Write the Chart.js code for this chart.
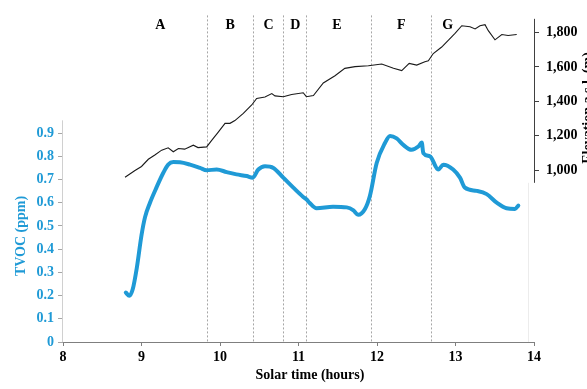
<!DOCTYPE html>
<html>
<head>
<meta charset="utf-8">
<script src="https://cdn.jsdelivr.net/npm/chart.js@4/dist/chart.umd.min.js"></script>
<style>
  html, body { margin: 0; padding: 0; background: #ffffff; }
  #wrap { width: 587px; height: 389px; }
</style>
</head>
<body>
<div id="wrap"><canvas id="chart" width="587" height="389"></canvas></div>
<script>
// TVOC concentration along the route (solar time in hours, ppm)
const tvocHours = [8.80, 8.845, 8.888, 8.94, 9.0, 9.045, 9.108, 9.19, 9.278, 9.34, 9.405, 9.49, 9.618, 9.745, 9.83,
  9.958, 10.085, 10.21, 10.34, 10.416, 10.488, 10.573, 10.68, 10.806, 10.934, 11.06, 11.104, 11.14, 11.23, 11.44,
  11.614, 11.70, 11.76, 11.847, 11.91, 11.996, 12.10, 12.166, 12.25, 12.335, 12.44, 12.526, 12.57, 12.59, 12.675,
  12.78, 12.845, 12.97, 13.057, 13.12, 13.27, 13.397, 13.525, 13.65, 13.758, 13.80];
const tvocValues = [0.213, 0.199, 0.227, 0.319, 0.46, 0.538, 0.60, 0.665, 0.729, 0.764, 0.775, 0.774, 0.764, 0.75, 0.74,
  0.743, 0.732, 0.722, 0.715, 0.708, 0.743, 0.757, 0.75, 0.708, 0.665, 0.625, 0.614, 0.60, 0.576, 0.583,
  0.58, 0.567, 0.548, 0.573, 0.63, 0.771, 0.856, 0.887, 0.877, 0.849, 0.828, 0.842, 0.859, 0.814, 0.80,
  0.743, 0.764, 0.743, 0.708, 0.665, 0.651, 0.637, 0.60, 0.576, 0.573, 0.588];

// Elevation above sea level (m)
const elevHours = [8.79, 8.917, 9.0, 9.087, 9.17, 9.257, 9.34, 9.405, 9.47, 9.55, 9.66, 9.72, 9.83, 9.894, 9.978,
  10.064, 10.127, 10.19, 10.297, 10.404, 10.467, 10.573, 10.66, 10.70, 10.806, 10.913, 11.06, 11.10, 11.19, 11.316,
  11.465, 11.59, 11.72, 11.89, 12.06, 12.21, 12.315, 12.41, 12.506, 12.61, 12.654, 12.717, 12.824, 12.994, 13.08,
  13.185, 13.25, 13.312, 13.376, 13.418, 13.503, 13.59, 13.67, 13.78];
const elevValues = [958, 998, 1021, 1063, 1088, 1116, 1130, 1107, 1126, 1122, 1145, 1131, 1135, 1173, 1221,
  1272, 1272, 1288, 1330, 1379, 1417, 1425, 1445, 1432, 1427, 1440, 1450, 1427, 1434, 1507,
  1549, 1592, 1602, 1607, 1617, 1592, 1579, 1621, 1611, 1630, 1636, 1678, 1716, 1796, 1840,
  1834, 1821, 1840, 1846, 1811, 1758, 1789, 1783, 1789];

// Route segments: boundaries (hours) and letter positions
const segmentBounds = [9.84, 10.42, 10.80, 11.10, 11.92, 12.69];
const segmentNames = ['A', 'B', 'C', 'D', 'E', 'F', 'G'];
const segmentLabelHours = [9.24, 10.13, 10.62, 10.96, 11.49, 12.31, 12.90];

// Tick labels
const xTicks = [8, 9, 10, 11, 12, 13, 14];
const tvocTicks = [0, 0.1, 0.2, 0.3, 0.4, 0.5, 0.6, 0.7, 0.8, 0.9];
const elevTicks = [1000, 1200, 1400, 1600, 1800];

const BLUE = '#1f9ad6';
const SERIF = "'Liberation Serif', 'Times New Roman', serif";
const tickFont = { family: SERIF, size: 14, weight: 'bold' };

const overlay = {
  id: 'overlay',
  beforeDatasetsDraw(chart) {
    const { ctx, chartArea, scales } = chart;
    const x = scales.x, y = scales.y, y2 = scales.y2;
    ctx.save();
    // segment separators
    ctx.strokeStyle = '#a6a6a6';
    ctx.lineWidth = 1;
    ctx.setLineDash([2, 2]);
    segmentBounds.forEach(h => {
      const px = Math.round(x.getPixelForValue(h)) + 0.5;
      ctx.beginPath();
      ctx.moveTo(px, chartArea.top);
      ctx.lineTo(px, chartArea.bottom);
      ctx.stroke();
    });
    ctx.setLineDash([]);
    // TVOC axis line
    ctx.strokeStyle = '#d0d0d0';
    ctx.beginPath();
    ctx.moveTo(chartArea.left - 0.5, y.getPixelForValue(0.955));
    ctx.lineTo(chartArea.left - 0.5, chartArea.bottom);
    ctx.stroke();
    // faint right edge of the TVOC panel
    ctx.strokeStyle = '#ececec';
    ctx.beginPath();
    ctx.moveTo(chartArea.right - 5.5, y2.getPixelForValue(926));
    ctx.lineTo(chartArea.right - 5.5, chartArea.bottom);
    ctx.stroke();
    // elevation axis line
    ctx.strokeStyle = '#404040';
    ctx.beginPath();
    ctx.moveTo(chartArea.right + 0.5, y2.getPixelForValue(1880));
    ctx.lineTo(chartArea.right + 0.5, y2.getPixelForValue(926));
    ctx.stroke();
    ctx.restore();
  },
  afterDraw(chart) {
    const { ctx, chartArea, scales } = chart;
    const x = scales.x;
    ctx.save();
    ctx.font = 'bold 14px ' + SERIF;
    ctx.fillStyle = '#000';
    ctx.textAlign = 'center';
    ctx.textBaseline = 'middle';
    segmentNames.forEach((name, i) => {
      ctx.fillText(name, x.getPixelForValue(segmentLabelHours[i]), chartArea.top + 10);
    });
    // x axis title
    ctx.fillText('Solar time (hours)', 310, 375);
    // TVOC axis title
    ctx.save();
    ctx.translate(21, 236);
    ctx.rotate(-Math.PI / 2);
    ctx.fillStyle = BLUE;
    ctx.fillText('TVOC (ppm)', 0, 0);
    ctx.restore();
    // elevation axis title
    ctx.save();
    ctx.translate(592, 108);
    ctx.rotate(-Math.PI / 2);
    ctx.textBaseline = 'alphabetic';
    ctx.fillText('Elevation a.s.l. (m)', 0, 0);
    ctx.restore();
    ctx.restore();
  }
};

new Chart(document.getElementById('chart'), {
  type: 'line',
  data: {
    datasets: [
      {
        label: 'Elevation',
        data: elevHours.map((h, i) => ({ x: h, y: elevValues[i] })),
        yAxisID: 'y2',
        borderColor: '#1a1a1a',
        borderWidth: 1.1,
        pointRadius: 0,
        tension: 0
      },
      {
        label: 'TVOC',
        data: tvocHours.map((h, i) => ({ x: h, y: tvocValues[i] })),
        yAxisID: 'y',
        borderColor: BLUE,
        borderWidth: 4,
        pointRadius: 0,
        cubicInterpolationMode: 'monotone',
        borderJoinStyle: 'round',
        borderCapStyle: 'round'
      }
    ]
  },
  options: {
    responsive: false,
    animation: false,
    devicePixelRatio: 1,
    layout: { padding: { top: 10, left: 0, right: 0, bottom: 0 } },
    plugins: { legend: { display: false }, tooltip: { enabled: false } },
    scales: {
      x: {
        type: 'linear',
        position: 'bottom',
        min: 8,
        max: 14,
        afterBuildTicks: s => { s.ticks = xTicks.map(v => ({ value: v })); },
        afterFit: s => { s.height = 47; },
        grid: { drawOnChartArea: false, drawTicks: true, tickLength: 4, color: '#7f7f7f' },
        border: { display: true, color: '#7f7f7f', width: 1 },
        ticks: { color: '#000', font: tickFont, padding: 3, maxRotation: 0 }
      },
      y: {
        type: 'linear',
        position: 'left',
        min: 0,
        max: 1.407,
        afterBuildTicks: s => { s.ticks = tvocTicks.map(v => ({ value: v })); },
        afterFit: s => { s.width = 63; },
        grid: { drawOnChartArea: false, drawTicks: true, tickLength: 5, color: '#a6a6a6' },
        border: { display: false },
        ticks: { color: BLUE, font: tickFont, padding: 4, callback: v => String(v) }
      },
      y2: {
        type: 'linear',
        position: 'right',
        min: 0,
        max: 1900,
        afterBuildTicks: s => { s.ticks = elevTicks.map(v => ({ value: v })); },
        afterFit: s => { s.width = 53; },
        grid: { drawOnChartArea: false, drawTicks: true, tickLength: 5, color: '#404040' },
        border: { display: false },
        ticks: { color: '#000', font: tickFont, padding: 7, callback: v => v.toLocaleString('en-US') }
      }
    }
  },
  plugins: [overlay]
});
</script>
</body>
</html>
